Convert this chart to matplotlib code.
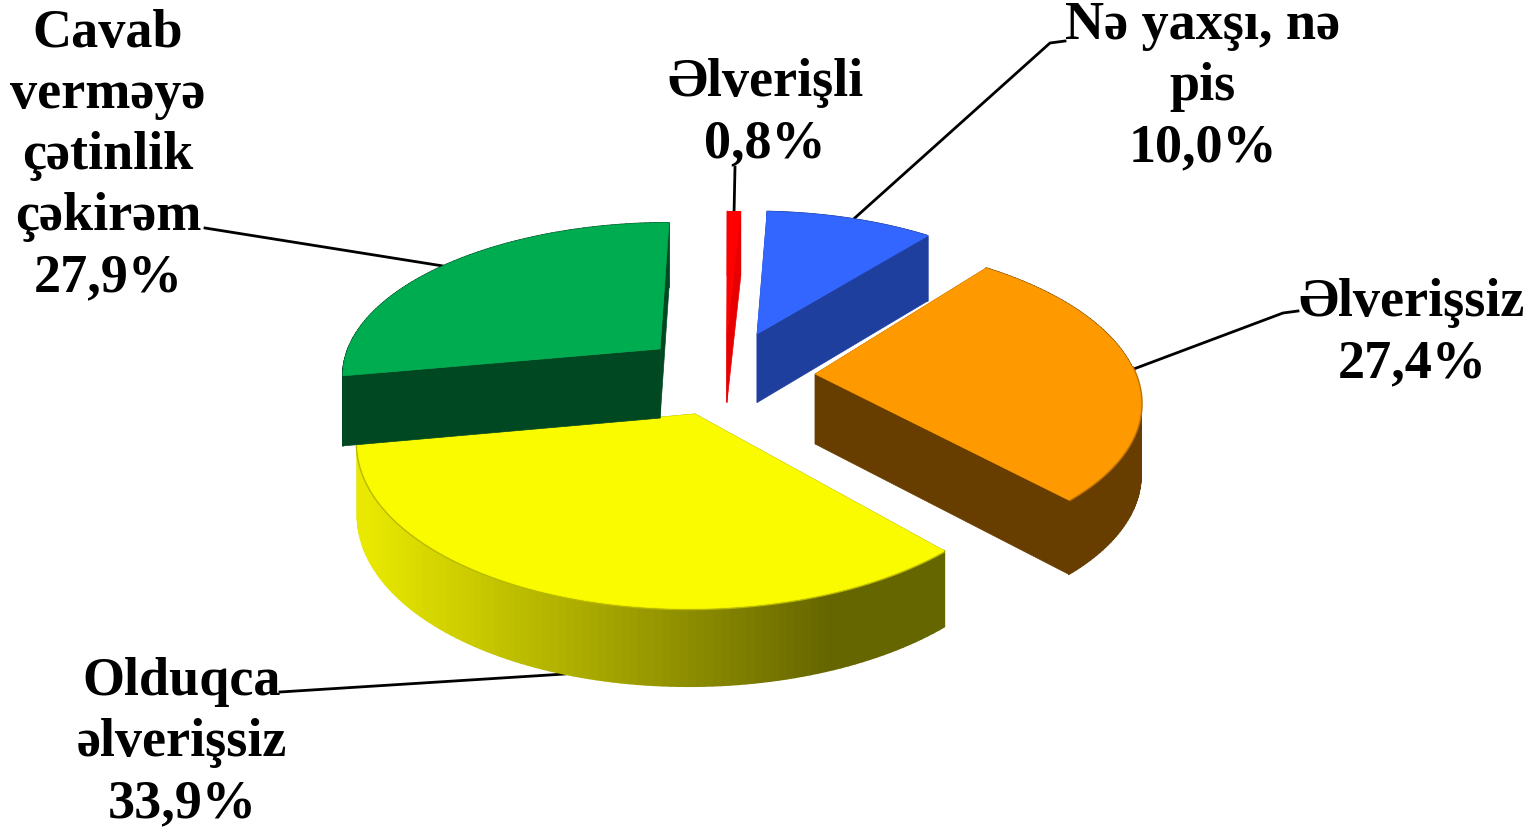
import numpy as np
import matplotlib
matplotlib.use('Agg')
import matplotlib.pyplot as plt
from matplotlib.collections import PolyCollection
from matplotlib.colors import to_rgb

# data, clockwise from 12 o'clock
labels = ['Əlverişli', 'Nə yaxşı, nə\npis', 'Əlverişsiz', 'Olduqca\nəlverişsiz',
          'Cavab\nverməyə\nçətinlik\nçəkirəm']
values = [0.8, 10.0, 27.4, 33.9, 27.9]
value_text = ['0,8%', '10,0%', '27,4%', '33,9%', '27,9%']

top_colors = ['#ff0000', '#3366ff', '#ff9900', '#fbfb00', '#00ac50']
wall_colors = ['#e80000', '#1f3f9f', '#683e00', '#666600', '#004822']
# how far each slice is pulled out, in pie radii (right, back)
explode = [(-0.01, 0.274), (0.088, 0.274), (0.266, 0.0), (-0.105, -0.253), (-0.224, 0.169)]

label_pos = [(765, 114), (1203, 87), (1412, 334), (182, 743), (108, 156)]
leader_from = [[(735, 168)], [(1065, 42), (1050, 44)], [(1298, 312), (1283, 314)],
               [(280, 693)], [(205, 229)]]
leader_frac = [0.5, 0.52, 0.50, 0.50, 0.49]

# projection of the pie plane onto the picture
CX, CY = 730, 375
A, B, K, H = 320, 152, 0.15, 70


def project(u, v, drop=0.0):
    w = 1 + K * v
    return CX + A * u / w, CY - B * v / w + drop * H / np.sqrt(w)


def rim(a0, a1, off, n=201):
    t = np.radians(np.linspace(a0, a1, n))
    return np.sin(t) + off[0], np.cos(t) + off[1]


def mix(c1, c2, f):
    return tuple(np.array(to_rgb(c1)) * (1 - f) + np.array(to_rgb(c2)) * f)


fig = plt.figure(figsize=(15.4, 8.28), dpi=100)
ax = fig.add_axes([0, 0, 1, 1])
ax.set_xlim(0, 1540)
ax.set_ylim(828, 0)
ax.axis('off')

edges = np.concatenate([[0], np.cumsum(values)]) / sum(values) * 360
anchors = []

for i in [4, 1, 0, 2, 3]:
    a0, a1 = edges[i], edges[i + 1]
    off = explode[i]
    u, v = rim(a0, a1, off)

    # side cuts
    for a in (a0, a1):
        ru, rv = off[0] + np.sin(np.radians(a)), off[1] + np.cos(np.radians(a))
        p = [project(off[0], off[1]), project(ru, rv), project(ru, rv, 1), project(off[0], off[1], 1)]
        ax.fill(*zip(*p), color=wall_colors[i], lw=0.5, zorder=i + 1)

    # outer wall, yellow one is shaded from left to right
    tx, ty = project(u, v)
    bx, by = project(u, v, 1)
    step = 2
    idx = range(0, len(u) - 1, step)
    quads = [[(tx[j], ty[j]), (tx[j + step], ty[j + step]), (bx[j + step], by[j + step]), (bx[j], by[j])]
             for j in idx]
    if i == 3:
        cols = [mix('#e8e800', '#666600', np.clip((tx[j] - 370) / 460, 0, 1)) for j in idx]
    else:
        cols = [wall_colors[i]] * len(quads)
    ax.add_collection(PolyCollection(quads, facecolors=cols, edgecolors=cols,
                                     linewidths=0.3 if i == 0 else 1.2, zorder=i + 1))

    # top face
    ox, oy = project(*off)
    ax.fill(np.r_[ox, tx], np.r_[oy, ty], color=top_colors[i], lw=0.5, zorder=i + 1.2)
    near = v < off[1] + 0.05
    if i in (2, 3):
        ax.plot(tx[near], ty[near], color=mix(top_colors[i], wall_colors[i], 0.45), lw=2.5,
                solid_capstyle='butt', zorder=i + 1.1)

    k = int(leader_frac[i] * (len(u) - 1))
    anchors.append((i, tx[k], by[k] if i == 3 else ty[k]))

for i, ex, ey in anchors:
    pts = leader_from[i] + [(ex, ey)]
    ax.plot(*zip(*pts), color='black', lw=2, zorder=0.5)

for i in range(len(values)):
    ax.text(label_pos[i][0], label_pos[i][1], labels[i] + '\n' + value_text[i], ha='center', va='center',
            family='Liberation Serif', weight='bold', fontsize=39, linespacing=1.29, color='black')

fig.savefig('out.png', dpi=100, facecolor='white')
